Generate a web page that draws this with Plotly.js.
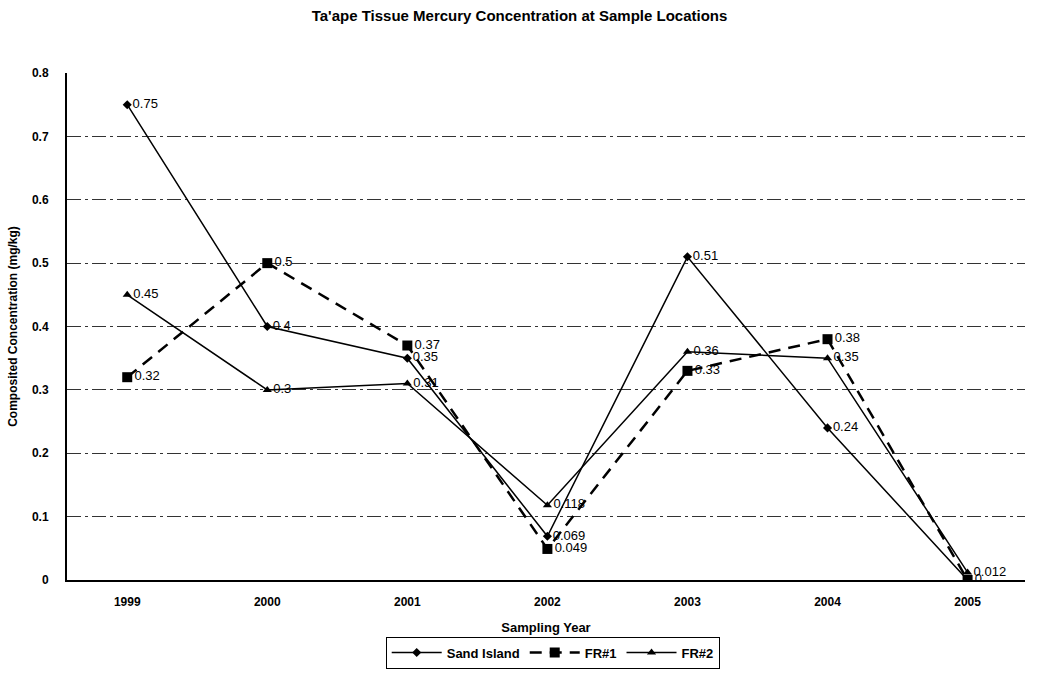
<!DOCTYPE html>
<html>
<head>
<meta charset="utf-8">
<script src="https://cdn.plot.ly/plotly-3.0.1.min.js"></script>
<style>html,body{margin:0;padding:0;background:#fff;}#chart{width:1039px;height:680px;}</style>
</head>
<body>
<div id="chart"></div>
<script>
const years = [1999, 2000, 2001, 2002, 2003, 2004, 2005];
const sandIsland = [0.75, 0.4, 0.35, 0.069, 0.51, 0.24, 0];
const fr1 = [0.32, 0.5, 0.37, 0.049, 0.33, 0.38, 0];
const fr2 = [0.45, 0.3, 0.31, 0.118, 0.36, 0.35, 0.012];
const yTicks = [0, 0.1, 0.2, 0.3, 0.4, 0.5, 0.6, 0.7, 0.8];

const labelFont = {family: 'Arial, Liberation Sans, sans-serif', size: 13, color: '#000'};
const fmt = v => String(v);
// Sand Island's 2005 label coincides with FR#1's "0" label in the reference
const siText = sandIsland.map((v, i) => i === years.length - 1 ? '' : fmt(v));

const traces = [
  {x: years, y: sandIsland, name: 'Sand Island', mode: 'lines+markers+text',
   text: siText, textposition: 'middle right', textfont: labelFont,
   line: {color: '#000', width: 1.5}, marker: {symbol: 'diamond', size: 7, color: '#000'}},
  {x: years, y: fr1, name: 'FR#1', mode: 'lines+markers+text',
   text: fr1.map(fmt), textposition: 'middle right', textfont: labelFont,
   line: {color: '#000', width: 2.5, dash: '12px,8px'}, marker: {symbol: 'square', size: 10, color: '#000'}},
  {x: years, y: fr2, name: 'FR#2', mode: 'lines+markers+text',
   text: fr2.map(fmt), textposition: 'middle right', textfont: labelFont,
   line: {color: '#000', width: 1.5}, marker: {symbol: 'triangle-up', size: 8, color: '#000'}}
];

const layout = {
  width: 1039, height: 680,
  margin: {l: 67, r: 14, t: 73, b: 97},
  paper_bgcolor: '#fff', plot_bgcolor: '#fff',
  font: {family: 'Arial, Liberation Sans, sans-serif', color: '#000'},
  title: {text: "Ta'ape Tissue Mercury Concentration at Sample Locations",
          font: {size: 15, weight: 'bold', color: '#000'}, x: 0.5, xanchor: 'center', y: 0.985, yanchor: 'top'},
  xaxis: {range: [1998.57, 2005.41], tickvals: years, ticktext: years.map(String),
          showgrid: false, zeroline: false, showline: true, linecolor: '#000', linewidth: 2,
          ticks: '', ticklabelstandoff: 10, tickfont: {size: 12, weight: 'bold'},
          title: {text: 'Sampling Year', font: {size: 13, weight: 'bold'}, standoff: 14}},
  yaxis: {range: [0, 0.8], tickvals: yTicks, ticktext: yTicks.map(v => v === 0 ? '0' : v.toFixed(1)),
          showgrid: true, gridcolor: '#333', gridwidth: 1, griddash: '14px,4px,3px,4px',
          zeroline: false, showline: true, linecolor: '#000', linewidth: 2,
          ticks: '', ticklabelstandoff: 14, tickfont: {size: 12, weight: 'bold'},
          title: {text: 'Composited Concentration (mg/kg)', font: {size: 12, weight: 'bold'}, standoff: 12}},
  showlegend: true,
  legend: {orientation: 'h', x: 0.507, xanchor: 'center', y: -0.143, yanchor: 'middle',
           bordercolor: '#000', borderwidth: 1, font: {size: 13, weight: 'bold'}, tracegroupgap: 0,
           itemwidth: 50}
};

Plotly.newPlot('chart', traces, layout, {displayModeBar: false});
</script>
</body>
</html>
